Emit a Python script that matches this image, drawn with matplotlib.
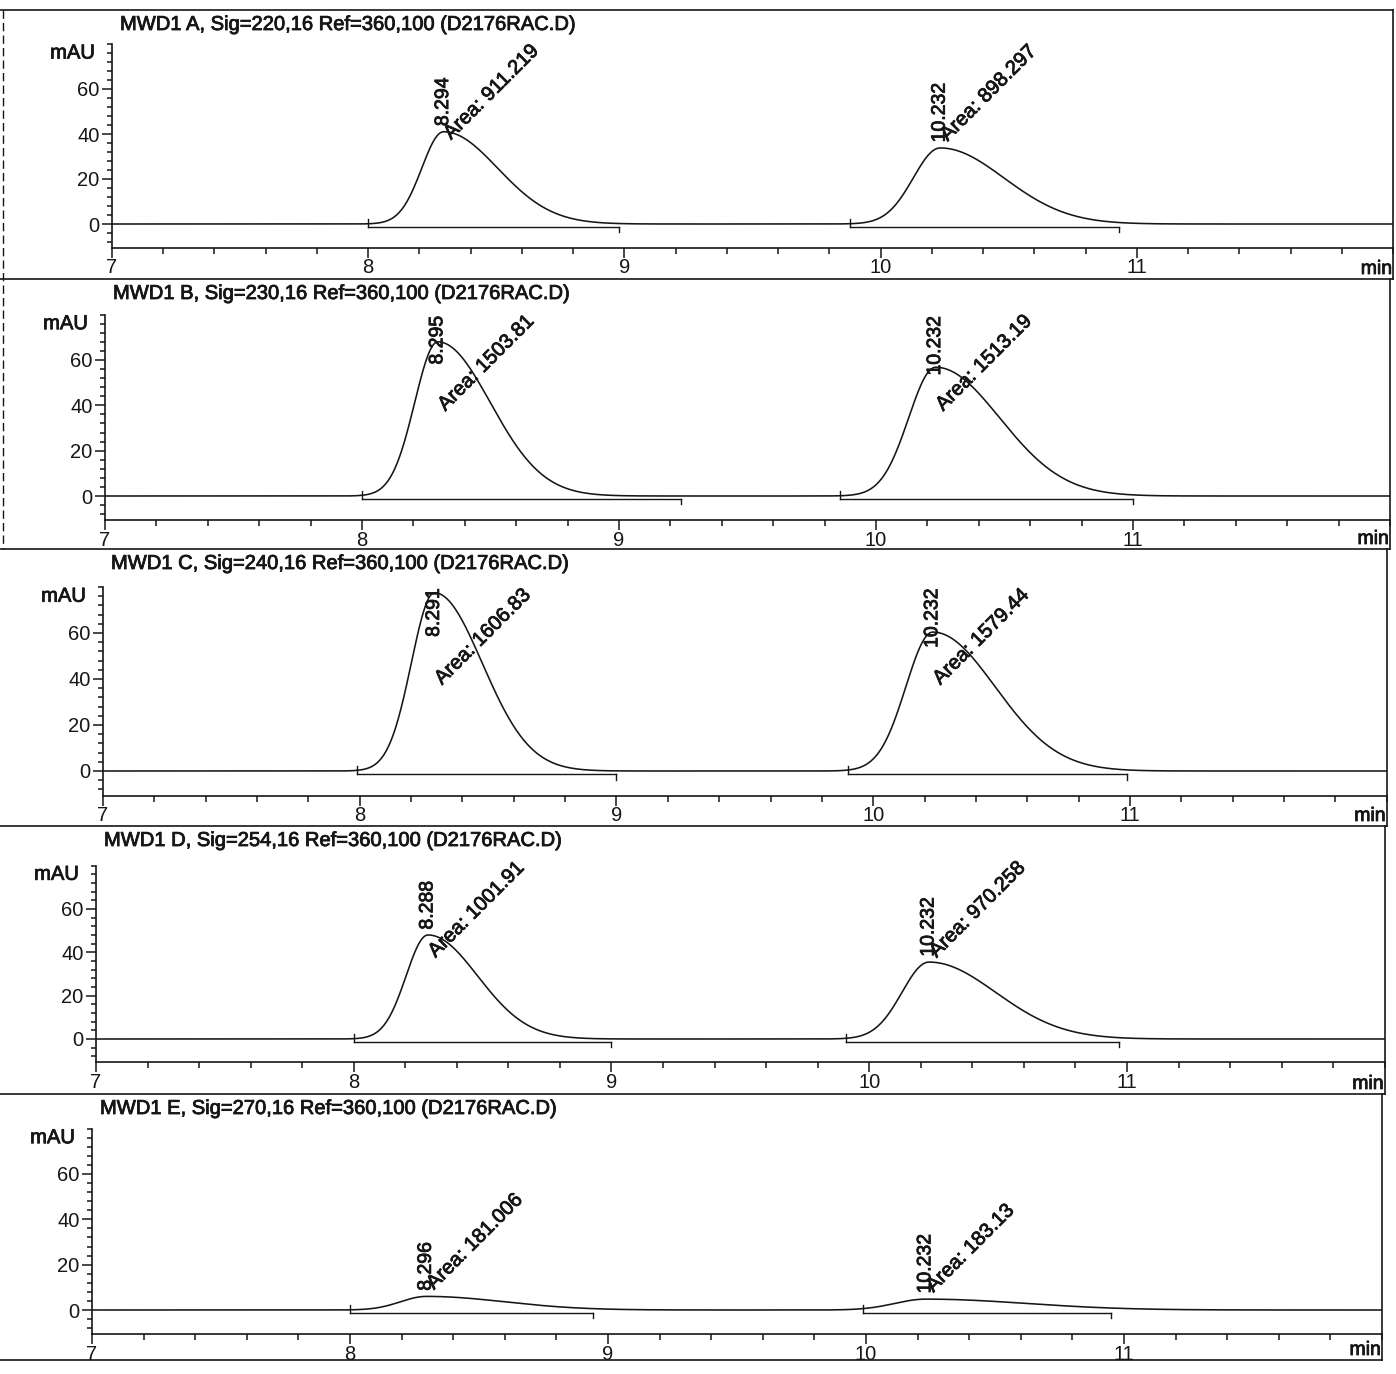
import numpy as np
import matplotlib
matplotlib.use("Agg")
import matplotlib.pyplot as plt
import matplotlib.patheffects as pe
from matplotlib.lines import Line2D
from matplotlib.text import Text
from matplotlib.ticker import FixedLocator, MultipleLocator

plt.rcParams["font.family"] = ["Liberation Sans", "DejaVu Sans"]

W, H, DPI = 1396, 1374, 100
INK = "#161616"

# ---- signal channels -------------------------------------------------------
channels = ["A", "B", "C", "D", "E"]
signal_nm = [220, 230, 240, 254, 270]
reference = "360,100"
data_file = "D2176RAC.D"

# ---- integrated peaks (retention time in min, area in mAU*s, apex height in mAU)
rt_peak1 = [8.294, 8.295, 8.291, 8.288, 8.296]
rt_peak2 = [10.232, 10.232, 10.232, 10.232, 10.232]
area_peak1 = [911.219, 1503.81, 1606.83, 1001.91, 181.006]
area_peak2 = [898.297, 1513.19, 1579.44, 970.258, 183.13]
height_peak1 = [41.0, 68.0, 77.5, 48.0, 6.0]
height_peak2 = [33.8, 56.8, 60.4, 35.5, 4.8]
front_width1 = [0.085, 0.090, 0.090, 0.085, 0.100]   # leading half-width, min
front_width2 = [0.105, 0.105, 0.105, 0.105, 0.120]
start_peak1 = [8.00, 8.00, 7.99, 8.00, 8.00]
end_peak1 = [8.98, 9.24, 9.00, 9.00, 8.94]
start_peak2 = [9.88, 9.86, 9.90, 9.91, 9.99]
end_peak2 = [10.93, 11.00, 10.99, 10.97, 10.95]

x_major = [7, 8, 9, 10, 11]
y_major = [0, 20, 40, 60]

# ---- page layout in pixels ---------------------------------------------------
x7_px = [112, 105, 103, 96, 92]            # position of t = 7 min
px_per_min = [256.25, 257.0, 256.75, 257.75, 258.0]
zero_px = [224, 496, 771, 1039, 1310]      # position of 0 mAU
px_per_mau = [2.25, 2.267, 2.30, 2.167, 2.267]
separators = [10, 279, 549, 826, 1094, 1360]
Y_LO, Y_HI = -10.7, 80.0
T_LO, T_HI = 7.0, 12.0
BASE_OFF = -1.3   # integration baseline below the trace


def peak_shape(t, rt, h, front, area):
    """Asymmetric Gaussian with apex h at rt; tail width set by the area."""
    sigma_eq = area / 60.0 / (h * np.sqrt(2 * np.pi))
    tail = max(2 * sigma_eq - front, front)
    s = np.where(t < rt, front, tail)
    return h * np.exp(-0.5 * ((t - rt) / s) ** 2)


fig = plt.figure(figsize=(W / DPI, H / DPI), dpi=DPI)
fig.patch.set_facecolor("white")

# overlay in page pixels for frame, titles and unit labels
page = fig.add_axes([0, 0, 1, 1], zorder=5)
page.set_xlim(0, W)
page.set_ylim(H, 0)
page.axis("off")
page.patch.set_alpha(0)

t = np.linspace(T_LO, T_HI, 2501)
renderer = fig.canvas.get_renderer()

for i, ch in enumerate(channels):
    left = x7_px[i]
    right = left + (T_HI - T_LO) * px_per_min[i]
    top = zero_px[i] - Y_HI * px_per_mau[i]
    bottom = zero_px[i] - Y_LO * px_per_mau[i]
    ax = fig.add_axes([left / W, 1 - bottom / H, (right - left) / W, (bottom - top) / H])
    ax.set_xlim(T_LO, T_HI)
    ax.set_ylim(Y_LO, Y_HI)
    ax.patch.set_alpha(0)
    for side in ("top", "right"):
        ax.spines[side].set_visible(False)
    for side in ("left", "bottom"):
        ax.spines[side].set_color(INK)
        ax.spines[side].set_linewidth(1.2)

    ax.xaxis.set_major_locator(FixedLocator(x_major))
    ax.xaxis.set_minor_locator(MultipleLocator(0.2))
    ax.yaxis.set_major_locator(FixedLocator(y_major))
    ax.yaxis.set_minor_locator(FixedLocator(np.arange(-8, 81, 4)))
    ax.tick_params(axis="x", which="major", direction="out", length=7, width=1.1,
                   pad=0.5, labelsize=14.5, colors=INK)
    ax.tick_params(axis="x", which="minor", direction="out", length=4.3, width=1.1, colors=INK)
    ax.tick_params(axis="y", which="major", direction="out", length=7, width=1.1,
                   pad=2, labelsize=14.5, colors=INK)
    ax.tick_params(axis="y", which="minor", direction="out", length=3.8, width=1.1, colors=INK)

    ax.annotate("mAU", xy=(0, 76), xycoords=("axes fraction", "data"),
                xytext=(-12.5, 0), textcoords="offset points",
                ha="right", va="center", fontsize=14.5, color=INK)

    # detector trace
    y = (peak_shape(t, rt_peak1[i], height_peak1[i], front_width1[i], area_peak1[i])
         + peak_shape(t, rt_peak2[i], height_peak2[i], front_width2[i], area_peak2[i]))
    ax.plot(t, y, color=INK, lw=1.15, zorder=3)

    # integration baselines with start / end marks
    for s0, s1 in ((start_peak1[i], end_peak1[i]), (start_peak2[i], end_peak2[i])):
        ax.plot([s0, s1], [BASE_OFF, BASE_OFF], color=INK, lw=1.0, zorder=3)
        ax.plot([s0, s0], [BASE_OFF, 2.2], color=INK, lw=1.0, zorder=3)
        ax.plot([s1, s1], [BASE_OFF, BASE_OFF - 2.4], color=INK, lw=1.0, zorder=3)

    # peak annotations
    for rt, h, area in ((rt_peak1[i], height_peak1[i], area_peak1[i]),
                        (rt_peak2[i], height_peak2[i], area_peak2[i])):
        lab = ax.text(rt, h + 2.5, f"{rt:.3f}", rotation=90, ha="center", va="bottom",
                      fontsize=14, color=INK, zorder=4)
        bb = lab.get_window_extent(renderer=renderer).transformed(ax.transData.inverted())
        if bb.y1 > 79.5:
            lab.set_y(79.5)
            lab.set_va("top")
        ax.text(rt + 0.04, min(h + 1.5, 36.0), f"Area: {area:g}", rotation=45,
                rotation_mode="anchor", ha="left", va="bottom",
                fontsize=14.5, color=INK, zorder=4)

    # frame, title and time unit
    sep_top, sep_bot = separators[i], separators[i + 1]
    page.add_line(Line2D([0, right], [sep_bot, sep_bot], color=INK, lw=1.2))
    if i == 0:
        page.add_line(Line2D([0, right], [sep_top, sep_top], color=INK, lw=1.2))
    page.add_line(Line2D([right, right], [sep_top, sep_bot], color=INK, lw=1.2))
    page.text(left + 8, sep_top + 14.5,
              f"MWD1 {ch}, Sig={signal_nm[i]},16 Ref={reference} ({data_file})",
              ha="left", va="center", fontsize=14.5, color=INK)
    page.text(right - 1, sep_bot - 1, "min", ha="right", va="bottom",
              fontsize=14, color=INK)

# left edge of the frame
page.add_line(Line2D([3, 3], [separators[0], separators[2]], color=INK, lw=1.0,
                     linestyle=(0, (6, 3))))

# printed toner weight on all lettering
for txt in fig.findobj(Text):
    if txt.get_text():
        txt.set_path_effects([pe.withStroke(linewidth=0.6, foreground=INK)])

fig.savefig("out.png", dpi=DPI, facecolor="white")
